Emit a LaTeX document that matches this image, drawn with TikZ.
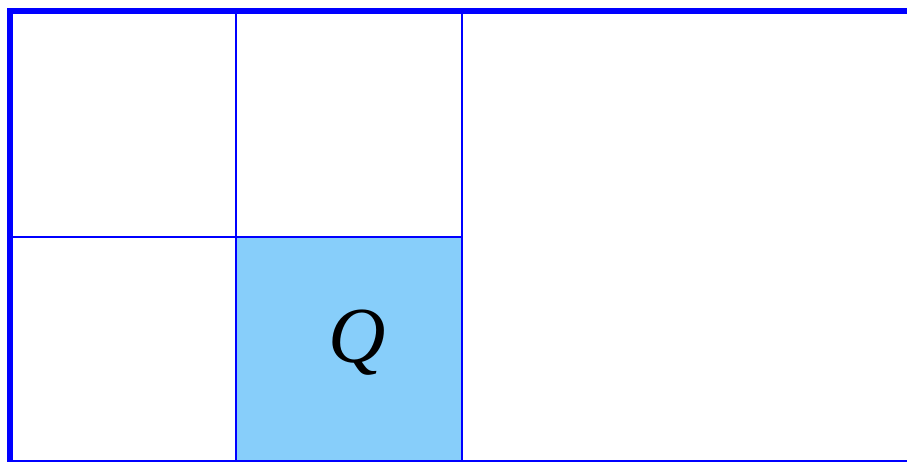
\documentclass[tikz,border=0pt]{standalone}
\usepackage{fontspec}
\usepackage{xcolor}
\usepackage{tikz}
\setmainfont{Liberation Serif}
\definecolor{qblue}{RGB}{135,206,250}

\begin{document}
\begin{tikzpicture}[
    gridline/.style={draw=blue, line width=0.5pt},
    frameline/.style={draw=blue, line width=1.5pt},
    qcell/.style={fill=qblue},
    label/.style={font=\fontsize{20}{24}\selectfont\itshape, inner sep=0pt, anchor=base}
]
    \useasboundingbox (-0.0885,0.097) rectangle (7.938,-3.991);
    % shaded cell
    \fill [qcell] (2,-2) rectangle (4,-4);
    % grid
    \draw [gridline] (0,-2) -- (4,-2);
    \draw [gridline] (2,0) -- (2,-4.2);
    \draw [gridline] (4,0) -- (4,-4.2);
    % outer frame
    \draw [frameline] (0,-4) -- (8.5,-4);
    \draw [frameline] (0,-4.2) -- (0,0) -- (8.5,0);
    \node [label] (q) at (3.07,-3.11) {Q};
\end{tikzpicture}
\end{document}
